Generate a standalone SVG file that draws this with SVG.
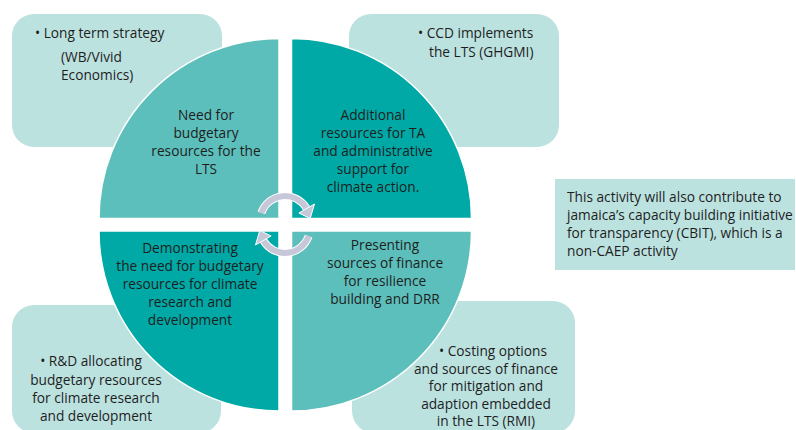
<svg xmlns="http://www.w3.org/2000/svg" width="796" height="430" viewBox="0 0 796 430">
  <style>
    .box { fill: #BCE2E0; }
    .q { stroke: #FFFFFF; stroke-width: 1.5; }
    .light { fill: #5DBFBB; }
    .dark { fill: #00A9A5; }
    text { font-family: "Open Sans", "Liberation Sans", sans-serif; font-size: 13.7px; fill: #1E1E1E; }
    .c { text-anchor: middle; }
    .band-out { fill: none; stroke: #FFFFFF; stroke-width: 8; }
    .band { fill: none; stroke: #C6C8DA; stroke-width: 6; }
    .head { fill: #C6C8DA; stroke: #FFFFFF; stroke-width: 1; }
  </style>
  <defs>
    <g id="cycle-arrow">
      <path class="band-out" d="M261.4,212.9 A25,25 0 0 1 306.65,208.5"/>
      <path class="band" d="M261.4,212.9 A25,25 0 0 1 306.65,208.5"/>
      <polygon class="head" points="298.9,213 314.5,204 310.2,218.5"/>
    </g>
  </defs>
  <rect width="796" height="430" fill="#FFFFFF"/>

  <!-- outer activity boxes -->
  <g id="box-tl">
    <rect class="box" x="12" y="14" width="210" height="133" rx="22"/>
    <text x="35" y="38">• Long term strategy</text>
    <text x="61" y="62">(WB/Vivid</text>
    <text x="61" y="80">Economics)</text>
  </g>
  <g id="box-tr">
    <rect class="box" x="349" y="14" width="210" height="133" rx="22"/>
    <text x="418" y="38">• CCD implements</text>
    <text x="429" y="57">the LTS (GHGMI)</text>
  </g>
  <g id="box-bl">
    <rect class="box" x="12" y="305" width="209" height="128" rx="22"/>
  </g>
  <g id="box-br">
    <rect class="box" x="352" y="301" width="223" height="132" rx="22"/>
  </g>

  <!-- circle quadrants -->
  <g id="quad-tl">
    <path class="q light" d="M279,218.5 L99,218.5 A180,180 0 0 1 279,38.5 Z"/>
    <text class="c" x="206" y="120">Need for</text>
    <text class="c" x="206" y="138">budgetary</text>
    <text class="c" x="206" y="156">resources for the</text>
    <text class="c" x="206" y="174">LTS</text>
  </g>
  <g id="quad-tr">
    <path class="q dark" d="M291.5,218.5 L291.5,38.5 A180,180 0 0 1 471.5,218.5 Z"/>
    <text class="c" x="373" y="120">Additional</text>
    <text class="c" x="373" y="138">resources for TA</text>
    <text class="c" x="373" y="156">and administrative</text>
    <text class="c" x="373" y="174">support for</text>
    <text class="c" x="373" y="192">climate action.</text>
  </g>
  <g id="quad-bl">
    <path class="q dark" d="M279,231 L279,411 A180,180 0 0 1 99,231 Z"/>
    <text class="c" x="190" y="253">Demonstrating</text>
    <text class="c" x="190" y="271">the need for budgetary</text>
    <text class="c" x="190" y="289">resources for climate</text>
    <text class="c" x="190" y="307">research and</text>
    <text class="c" x="190" y="325">development</text>
  </g>
  <g id="quad-br">
    <path class="q light" d="M291.5,231 L471.5,231 A180,180 0 0 1 291.5,411 Z"/>
    <text class="c" x="385" y="250">Presenting</text>
    <text class="c" x="385" y="268">sources of finance</text>
    <text class="c" x="385" y="286">for resilience</text>
    <text class="c" x="385" y="304">building and DRR</text>
  </g>

  <!-- labels of the lower boxes sit above the quadrants -->
  <g id="box-bl-text">
    <text class="c" x="91" y="366">• R&amp;D allocating</text>
    <text class="c" x="96" y="384.5">budgetary resources</text>
    <text class="c" x="96" y="402.5">for climate research</text>
    <text class="c" x="96" y="420.5">and development</text>
  </g>
  <g id="box-br-text">
    <text class="c" x="493" y="356">• Costing options</text>
    <text class="c" x="486" y="373.5">and sources of finance</text>
    <text class="c" x="486" y="391">for mitigation and</text>
    <text class="c" x="486" y="408.5">adaption embedded</text>
    <text class="c" x="486" y="426">in the LTS (RMI)</text>
  </g>

  <!-- cycle connectors -->
  <g id="connectors">
    <use href="#cycle-arrow"/>
    <use href="#cycle-arrow" transform="rotate(180 285 224.5)"/>
  </g>

  <!-- side note -->
  <g id="note">
    <rect class="box" x="555" y="179" width="240" height="91"/>
    <text x="567" y="201.5">This activity will also contribute to</text>
    <text x="567" y="219.5">jamaica’s capacity building initiative</text>
    <text x="567" y="237.5">for transparency (CBIT), which is a</text>
    <text x="567" y="256">non-CAEP activity</text>
  </g>
</svg>
